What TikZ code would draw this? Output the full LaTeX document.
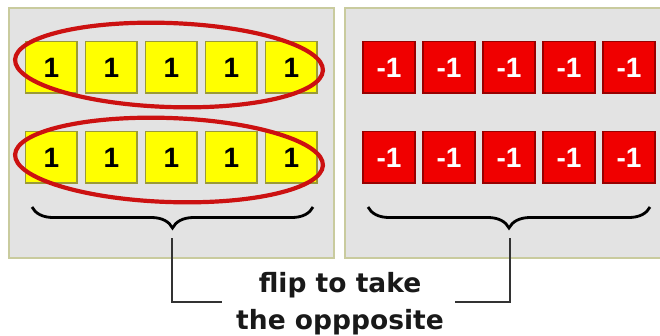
\documentclass[tikz,border=0pt]{standalone}
\usepackage{fontspec}
\setmainfont{DejaVu Sans}
\newfontfamily\numfont{Liberation Sans}
\usetikzlibrary{decorations.pathreplacing}
\definecolor{panelfill}{HTML}{E3E3E3}
\definecolor{panelline}{HTML}{C9CB9E}
\definecolor{yel}{HTML}{FFFF00}
\definecolor{yelline}{HTML}{9A9A38}
\definecolor{redbox}{HTML}{F00000}
\definecolor{redline}{HTML}{980000}
\definecolor{ringred}{HTML}{CC1111}
\definecolor{connline}{HTML}{333333}
\tikzset{
  panel/.style={fill=panelfill, draw=panelline, line width=2pt},
  ybox/.style={minimum size=52pt, inner sep=0pt, fill=yel, draw=yelline, line width=1.2pt,
    font=\numfont\bfseries\fontsize{28}{28}\selectfont, text=black,
    path picture={\draw[yelline, line width=3pt] (path picture bounding box.north east) -- (path picture bounding box.south east) -- (path picture bounding box.south west);}},
  rbox/.style={minimum size=52pt, inner sep=0pt, fill=redbox, draw=redline, line width=1.2pt,
    font=\numfont\bfseries\fontsize{28}{28}\selectfont, text=white,
    path picture={\draw[redline, line width=3pt] (path picture bounding box.north east) -- (path picture bounding box.south east) -- (path picture bounding box.south west);}},
  ring/.style={draw=ringred, line width=4.2pt},
  bracepath/.style={decorate, decoration={brace, amplitude=21pt}, line width=2.8pt, black},
  conn/.style={draw=connline, line width=1.6pt},
  caption/.style={font=\bfseries\fontsize{26.5}{37}\selectfont, align=center, text=black!90}
}
\begin{document}
\begin{tikzpicture}[x=1pt, y=-1pt]
\useasboundingbox (0,0) rectangle (660,335);
\fill[white] (0,0) rectangle (660,335);
% panels
\draw[panel] (9,8) rectangle (334,258);
\draw[panel] (345,8) rectangle (668,258);
% boxes
\foreach \i in {0,...,4} {
  \node[ybox] (ya\i) at ({51.5+60*\i},67.5) {1};
  \node[ybox] (yb\i) at ({51.5+60*\i},157.5) {1};
  \node[rbox] (ra\i) at ({389+60*\i},67.5) {-1};
  \node[rbox] (rb\i) at ({389+60*\i},157.5) {-1};
}
% rings
\draw[ring, rotate around={-2:(169,65)}] (169,65) ellipse [x radius=154, y radius=42];
\draw[ring, rotate around={-2:(169,160)}] (169,160) ellipse [x radius=154, y radius=42];
% braces
\draw[bracepath] (313,207) -- (32,207);
\draw[bracepath] (650,207) -- (368,207);
% caption
\node[caption, anchor=center] (txt) at (340,304) {flip to take\\the oppposite};
% connectors
\coordinate (bL) at (172,238);
\coordinate (eL) at (222,302);
\coordinate (bR) at (510,238);
\coordinate (eR) at (455,302);
\draw[conn] (bL) |- (eL);
\draw[conn] (bR) |- (eR);
\end{tikzpicture}
\end{document}
